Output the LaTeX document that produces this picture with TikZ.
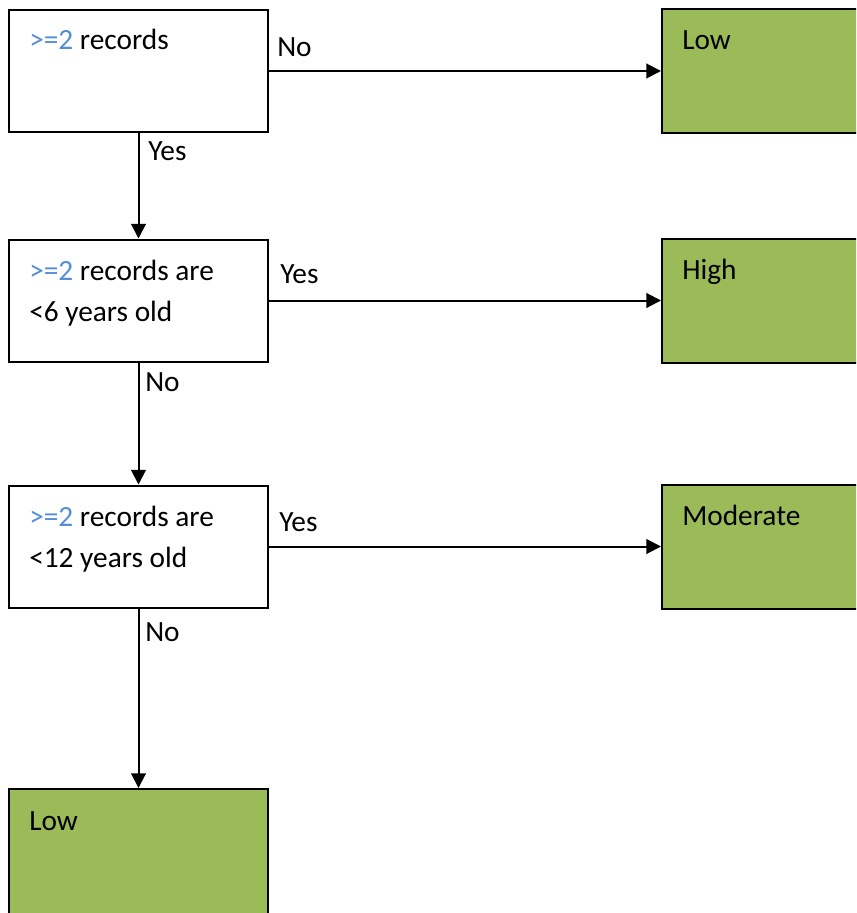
\documentclass[tikz,border=0pt]{standalone}
\usepackage{fontspec}
\setmainfont{Carlito}
\usetikzlibrary{arrows.meta}
\definecolor{leafgreen}{HTML}{9BBB59}
\definecolor{condblue}{HTML}{558ED5}
\tikzset{
  testbox/.style={draw, line width=1.5pt, minimum width=194.25pt, minimum height=91.5pt, inner sep=0pt},
  resultbox/.style={testbox, fill=leafgreen, minimum height=93pt},
  boxtext/.style={anchor=base west, inner sep=0pt, align=left},
  answer/.style={anchor=base west, inner sep=0pt},
  flow/.style={line width=1.5pt, -{Triangle[length=11pt,width=11pt]}}
}
\begin{document}
\begin{tikzpicture}[x=0.75pt,y=-0.75pt,font=\fontsize{22}{30.75}\selectfont]
   \clip (0,0) rectangle (856,913);
   \useasboundingbox (0,0) rectangle (856,913);

   \node[testbox] (q1) at (138.5,71) {};
   \node[testbox] (q2) at (138.5,300.5) {};
   \node[testbox] (q3) at (138.5,546.5) {};
   \node[resultbox] (low1) at (791.5,71) {};
   \node[resultbox] (high) at (791.5,300.5) {};
   \node[resultbox] (moderate) at (791.5,546.5) {};
   \node[resultbox, minimum height=96pt] (low2) at (138.5,853) {};

   % two-line texts sit on the baseline of their last line
   \node[boxtext] (q1text) at ([shift={(21,41)}]q1.north west) {{\color{condblue}>=2} records};
   \node[boxtext] (q2text) at ([shift={(21,83)}]q2.north west) {{\color{condblue}>=2} records are\\<6 years old};
   \node[boxtext] (q3text) at ([shift={(21,83)}]q3.north west) {{\color{condblue}>=2} records are\\<12 years old};
   \node[boxtext] (low1text) at ([shift={(21,42)}]low1.north west) {Low};
   \node[boxtext] (hightext) at ([shift={(21,42)}]high.north west) {High};
   \node[boxtext] (moderatetext) at ([shift={(21,42)}]moderate.north west) {Moderate};
   \node[boxtext] (low2text) at ([shift={(21,42)}]low2.north west) {Low};

   \draw[flow] (q1) -- (low1);
   \draw[flow] (q1) -- (q2);
   \draw[flow] (q2) -- (high);
   \draw[flow] (q2) -- (q3);
   \draw[flow] (q3) -- (moderate);
   \draw[flow] (q3) -- (low2);

   \node[answer] (no1) at (277,57) {No};
   \node[answer] (yes1) at (148,161) {Yes};
   \node[answer] (yes2) at (280,283) {Yes};
   \node[answer] (no2) at (145,391) {No};
   \node[answer] (yes3) at (279,531) {Yes};
   \node[answer] (no3) at (145,641) {No};
\end{tikzpicture}
\end{document}
